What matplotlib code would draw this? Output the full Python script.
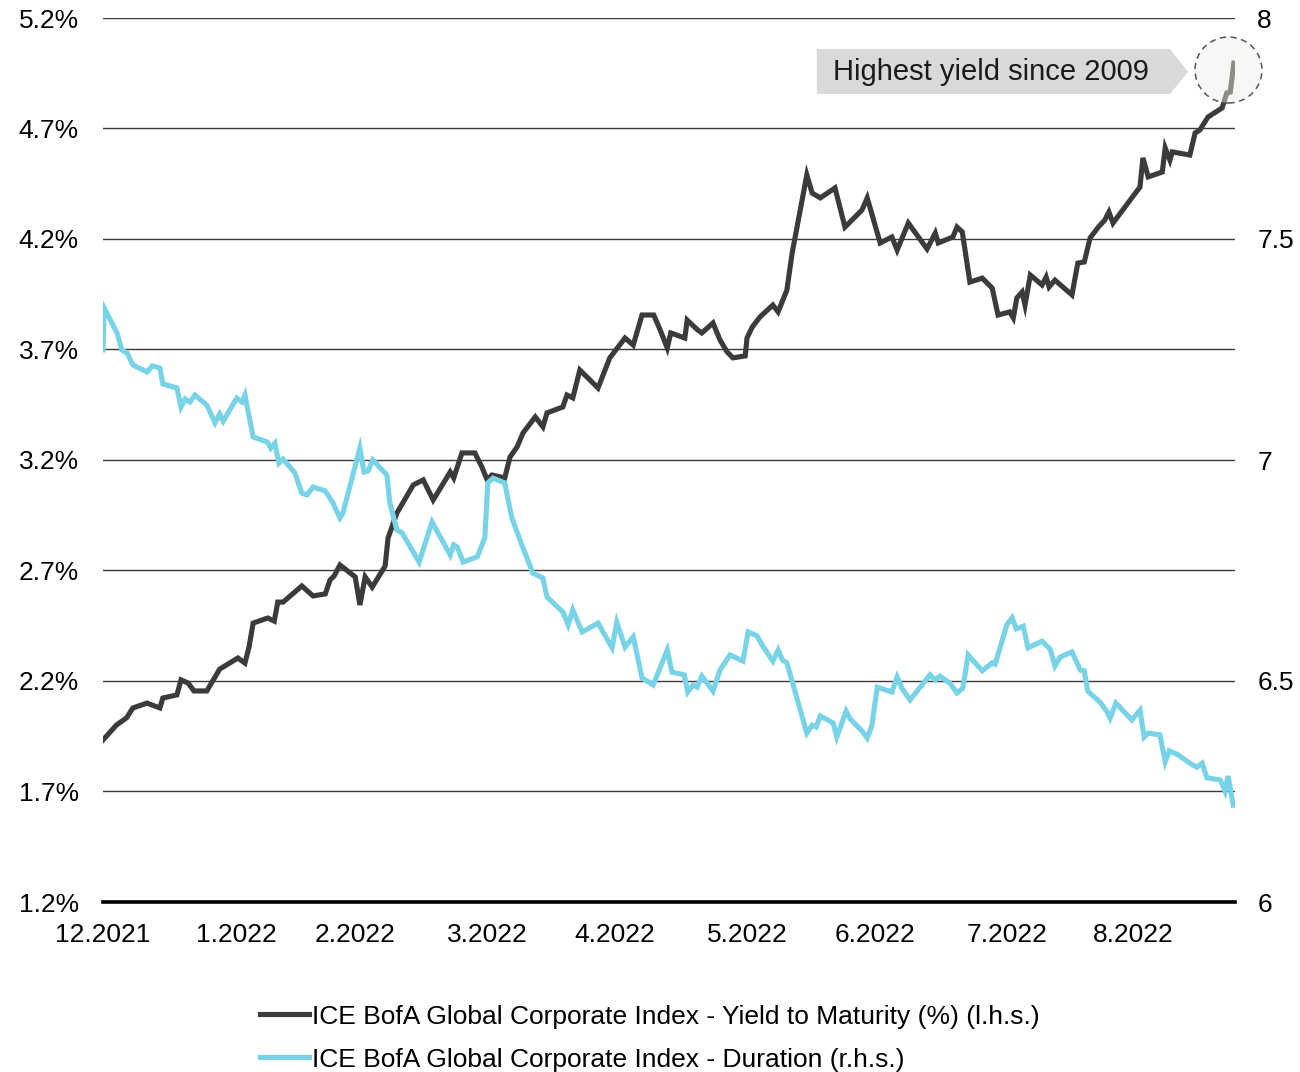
import matplotlib.pyplot as plt
import numpy as np
from matplotlib.patches import Polygon, Ellipse

plt.rcParams['font.family'] = ['Liberation Sans', 'DejaVu Sans']

# position along the x axis, in trading days from 1 Dec 2021
yield_t = [0, 2.3, 4.0, 5.1, 7.5, 9.7, 10.2, 12.6, 13.3, 14.5, 15.5, 17.7, 19.9, 23.0, 24.2,
           24.9, 25.6, 28.1, 29.2, 29.8, 30.7, 33.9, 35.8, 37.9, 38.7, 39.4, 40.4, 43.0, 43.8,
           44.7, 45.9, 48.1, 48.6, 50.1, 52.9, 54.6, 56.3, 59.2, 59.8, 61.2, 63.4, 64.6, 65.5,
           66.3, 68.5, 69.4, 70.6, 71.6, 73.7, 75.0, 75.7, 78.4, 79.1, 80.1, 81.3, 84.4, 86.4,
           89.0, 90.4, 91.9, 93.9, 95.0, 96.2, 96.8, 99.2, 99.6, 101.4, 102.1, 104.0, 105.2,
           106.4, 107.4, 109.5, 109.8, 110.7, 112.0, 114.2, 115.1, 116.6, 117.5, 120.0, 120.9,
           122.3, 124.8, 126.5, 129.4, 130.3, 132.5, 134.5, 135.4, 137.3, 140.5, 141.9, 142.4,
           144.9, 145.6, 146.5, 147.8, 149.9, 151.6, 152.6, 154.6, 155.2, 155.8, 156.7, 157.2,
           158.1, 160.1, 160.8, 161.3, 162.3, 165.2, 166.2, 167.3, 168.3, 169.7, 170.8, 171.5,
           172.2, 175.4, 176.8, 177.3, 178.2, 180.6, 181.1, 181.9, 182.3, 185.3, 186.2, 187.0,
           188.4, 190.8, 191.6, 192.2, 192.8]
yield_pct = [1.933, 2.001, 2.033, 2.078, 2.100, 2.078, 2.123, 2.137, 2.205, 2.191, 2.155, 2.155,
             2.254, 2.304, 2.281, 2.354, 2.462, 2.485, 2.471, 2.557, 2.557, 2.630, 2.585, 2.594,
             2.657, 2.675, 2.725, 2.671, 2.544, 2.671, 2.625, 2.720, 2.847, 2.960, 3.087, 3.110,
             3.019, 3.146, 3.119, 3.232, 3.232, 3.168, 3.110, 3.132, 3.119, 3.214, 3.259, 3.322,
             3.395, 3.350, 3.413, 3.440, 3.494, 3.481, 3.607, 3.526, 3.662, 3.752, 3.720, 3.856,
             3.856, 3.788, 3.707, 3.775, 3.752, 3.833, 3.788, 3.775, 3.820, 3.743, 3.689, 3.662,
             3.671, 3.752, 3.802, 3.847, 3.901, 3.870, 3.969, 4.137, 4.490, 4.408, 4.386, 4.431,
             4.254, 4.331, 4.386, 4.182, 4.209, 4.150, 4.272, 4.155, 4.227, 4.182, 4.209, 4.254,
             4.232, 4.005, 4.023, 3.978, 3.856, 3.870, 3.843, 3.933, 3.960, 3.901, 4.037, 3.992,
             4.028, 3.983, 4.014, 3.947, 4.091, 4.096, 4.205, 4.254, 4.286, 4.322, 4.272, 4.386,
             4.435, 4.567, 4.481, 4.503, 4.612, 4.557, 4.594, 4.580, 4.680, 4.693, 4.752, 4.793,
             4.861, 4.865, 4.996]

dur_t = [0, 0.2, 2.4, 3.2, 4.1, 5.1, 7.5, 8.4, 9.7, 10.2, 12.6, 13.3, 14.0, 14.8, 15.7, 17.7,
         19.1, 19.9, 20.5, 22.8, 23.7, 24.2, 25.6, 28.0, 28.6, 29.3, 30.0, 30.7, 32.7, 33.9,
         34.8, 35.8, 37.9, 39.2, 40.4, 40.9, 43.8, 44.5, 45.2, 46.0, 48.4, 48.9, 50.1, 51.0,
         53.9, 56.1, 59.2, 59.8, 60.4, 61.4, 63.8, 65.1, 65.6, 66.5, 68.5, 69.7, 71.6, 73.3,
         75.0, 75.7, 78.4, 79.3, 80.1, 81.7, 84.4, 86.8, 87.6, 89.0, 90.4, 91.9, 93.8, 96.2,
         97.0, 99.1, 99.7, 100.6, 101.3, 102.1, 104.0, 105.2, 106.9, 109.1, 110.0, 111.5, 112.4,
         114.2, 115.1, 115.8, 116.6, 120.0, 120.9, 121.6, 122.3, 124.5, 125.1, 126.7, 127.4,
         129.4, 130.3, 131.1, 132.0, 134.5, 135.4, 136.2, 137.6, 141.0, 141.9, 142.7, 144.4,
         145.6, 146.6, 147.5, 149.5, 149.9, 151.6, 152.1, 154.1, 155.0, 155.7, 156.9, 157.7,
         160.1, 161.5, 162.3, 163.2, 165.2, 166.6, 167.3, 167.9, 170.0, 171.2, 171.7, 172.7,
         175.4, 176.8, 177.5, 178.2, 180.2, 181.1, 181.8, 183.3, 185.3, 186.5, 187.4, 188.2,
         190.5, 191.3, 191.8, 192.7]
duration = [7.249, 7.344, 7.287, 7.249, 7.242, 7.215, 7.199, 7.213, 7.208, 7.172, 7.163, 7.120,
            7.138, 7.131, 7.147, 7.124, 7.084, 7.104, 7.088, 7.140, 7.131, 7.147, 7.052, 7.041,
            7.027, 7.038, 6.993, 7.002, 6.971, 6.925, 6.921, 6.939, 6.930, 6.903, 6.869, 6.880,
            7.027, 6.973, 6.975, 7.000, 6.966, 6.903, 6.842, 6.835, 6.769, 6.860, 6.785, 6.808,
            6.803, 6.769, 6.781, 6.824, 6.948, 6.959, 6.948, 6.869, 6.801, 6.744, 6.733, 6.690,
            6.656, 6.627, 6.661, 6.611, 6.631, 6.575, 6.633, 6.577, 6.600, 6.507, 6.491, 6.570,
            6.520, 6.514, 6.475, 6.491, 6.486, 6.511, 6.477, 6.525, 6.559, 6.545, 6.611, 6.602,
            6.581, 6.545, 6.570, 6.548, 6.541, 6.382, 6.400, 6.396, 6.421, 6.405, 6.373, 6.432,
            6.414, 6.387, 6.371, 6.400, 6.486, 6.475, 6.509, 6.484, 6.457, 6.514, 6.502, 6.511,
            6.495, 6.473, 6.484, 6.559, 6.529, 6.523, 6.541, 6.538, 6.627, 6.643, 6.618, 6.624,
            6.575, 6.590, 6.572, 6.534, 6.554, 6.566, 6.525, 6.523, 6.477, 6.452, 6.430, 6.416,
            6.450, 6.412, 6.434, 6.373, 6.382, 6.378, 6.317, 6.342, 6.333, 6.314, 6.305, 6.314,
            6.281, 6.276, 6.251, 6.285, 6.219]

month_pos = [0, 22.8, 43.0, 65.5, 87.3, 109.8, 131.6, 154.1, 175.6]
month_labels = ['12.2021', '1.2022', '2.2022', '3.2022', '4.2022',
                '5.2022', '6.2022', '7.2022', '8.2022']
left_ticks = [1.2, 1.7, 2.2, 2.7, 3.2, 3.7, 4.2, 4.7, 5.2]
right_ticks = [6, 6.5, 7, 7.5, 8]

dark = '#3b3c39'
cyan = '#78d3e6'
fs = 19

fig = plt.figure(figsize=(13, 10.72), dpi=100)
ax = fig.add_axes([103 / 1300, 1 - 902 / 1072, 1132 / 1300, 884 / 1072])
ax2 = ax.twinx()

l1, = ax.plot(yield_t, yield_pct, color=dark, lw=3.7, solid_joinstyle='miter',
              label='ICE BofA Global Corporate Index - Yield to Maturity (%) (l.h.s.)')
l2, = ax2.plot(dur_t, duration, color=cyan, lw=3.7, solid_joinstyle='miter',
               label='ICE BofA Global Corporate Index - Duration (r.h.s.)')

ax.set_xlim(0, 193)
ax.set_ylim(1.2, 5.2)
ax2.set_ylim(6, 8)
ax.set_yticks(left_ticks)
ax.set_yticklabels([f'{v:.1f}%' for v in left_ticks])
ax2.set_yticks(right_ticks)
ax2.set_yticklabels([f'{v:g}' for v in right_ticks])
ax.set_xticks(month_pos)
ax.set_xticklabels(month_labels)

ax.grid(axis='y', color='#3a3a3a', lw=1.0)
ax.set_axisbelow(True)
for a in (ax, ax2):
    for s in ('top', 'left', 'right', 'bottom'):
        a.spines[s].set_visible(False)
ax.axhline(1.2, color='black', lw=2.6, zorder=1, clip_on=False)

ax.tick_params(axis='y', length=0, pad=17.5, labelsize=fs, labelcolor='black')
ax2.tick_params(axis='y', length=0, pad=16, labelsize=fs, labelcolor='black')
ax.tick_params(axis='x', length=0, pad=15, labelsize=fs, labelcolor='black')

# callout box pointing at the last yield reading
box = Polygon([[121.7, 5.060], [181.9, 5.060], [185.0, 4.956], [181.9, 4.856], [121.7, 4.856]],
              closed=True, facecolor='#d9d9d9', edgecolor='none', zorder=4)
ax.add_patch(box)
ax.text(151.4, 4.956, 'Highest yield since 2009', ha='center', va='center',
        fontsize=21, color='#1a1a1a', zorder=5)
circ = Ellipse((1228.5 / 1300, 1 - 70 / 1072), 67 / 1300, 66 / 1072,
               transform=fig.transFigure, facecolor='#f0efeb', alpha=0.45,
               edgecolor='none', zorder=6)
fig.add_artist(circ)
ring = Ellipse((1228.5 / 1300, 1 - 70 / 1072), 67 / 1300, 66 / 1072,
               transform=fig.transFigure, facecolor='none', edgecolor='#555555',
               lw=1.1, linestyle=(0, (4, 3)), zorder=7)
fig.add_artist(ring)

fig.legend(handles=[l1, l2], loc='lower center', bbox_to_anchor=(0.5, -0.012),
           frameon=False, fontsize=fs, handlelength=1.85, handletextpad=0.1,
           labelspacing=0.72, borderaxespad=0.1)

fig.savefig('out.png', dpi=100)
